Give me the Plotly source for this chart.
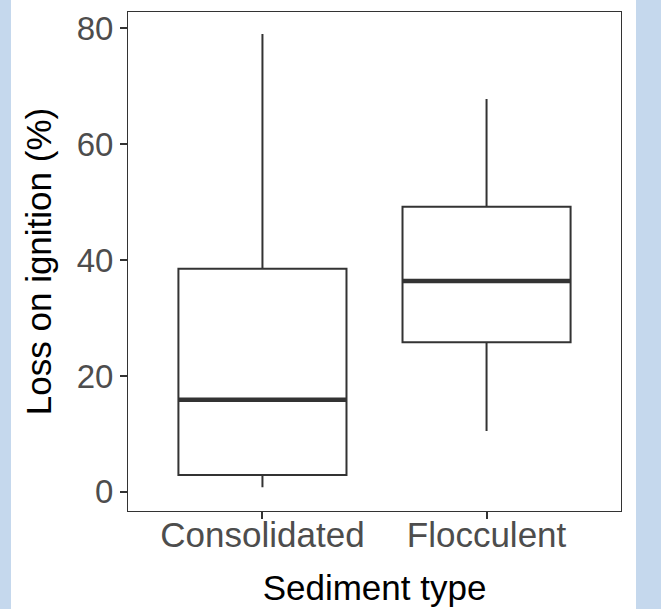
import plotly.graph_objects as go

categories = ["Consolidated", "Flocculent"]
lower_whisker = [0.8, 10.5]
q1_values = [2.9, 25.8]
median_values = [15.9, 36.4]
q3_values = [38.5, 49.2]
upper_whisker = [79.0, 67.8]
y_ticks = [0, 20, 40, 60, 80]

BOX_W = 0.75
INK = "#333333"
FONT = "Liberation Sans, Arial, sans-serif"

fig = go.Figure()
fig.add_trace(go.Box(
    x=categories,
    q1=q1_values,
    median=median_values,
    q3=q3_values,
    lowerfence=lower_whisker,
    upperfence=upper_whisker,
    width=BOX_W,
    whiskerwidth=0,
    fillcolor="white",
    line=dict(color=INK, width=2),
    boxpoints=False,
    showlegend=False,
))

shapes = []
for i, m in enumerate(median_values):
    shapes.append(dict(type="line", xref="x", yref="y",
                       x0=i - BOX_W / 2, x1=i + BOX_W / 2, y0=m, y1=m,
                       line=dict(color=INK, width=4.5)))
# light blue side strips of the original image
shapes.append(dict(type="rect", xref="paper", yref="paper", x0=-128/493, x1=-117/493,
                   y0=-98/499, y1=1 + 12/499, fillcolor="#c5d8ed", line_width=0, layer="below"))
shapes.append(dict(type="rect", xref="paper", yref="paper", x0=1 + 15/493, x1=1 + 40/493,
                   y0=-98/499, y1=1 + 12/499, fillcolor="#c5d8ed", line_width=0, layer="below"))

fig.update_layout(
    width=661, height=609,
    margin=dict(l=128, r=40, t=12, b=98, autoexpand=False),
    paper_bgcolor="white",
    plot_bgcolor="white",
    shapes=shapes,
    font=dict(family=FONT),
)
fig.update_xaxes(
    type="category",
    range=[-0.6, 1.6],
    showgrid=False, zeroline=False,
    showline=True, linecolor=INK, linewidth=1, mirror=True,
    ticks="outside", ticklen=7, tickwidth=1.5, tickcolor=INK,
    tickfont=dict(size=35, color="#4d4d4d", family=FONT),
    ticklabelstandoff=-14,
    title=dict(text="Sediment type", font=dict(size=35, color="black", family=FONT), standoff=22),
)
fig.update_yaxes(
    range=[-3.3, 82.8],
    tickvals=y_ticks,
    showgrid=False, zeroline=False,
    showline=True, linecolor=INK, linewidth=1, mirror=True,
    ticks="outside", ticklen=7, tickwidth=1.5, tickcolor=INK,
    tickfont=dict(size=33, color="#4d4d4d", family=FONT),
    ticklabelstandoff=0,
    title=dict(text="Loss on ignition (%)", font=dict(size=35, color="black", family=FONT), standoff=14),
)

fig.write_html("out.html", config={"displayModeBar": False},
               post_script="document.body.style.margin='0';")
